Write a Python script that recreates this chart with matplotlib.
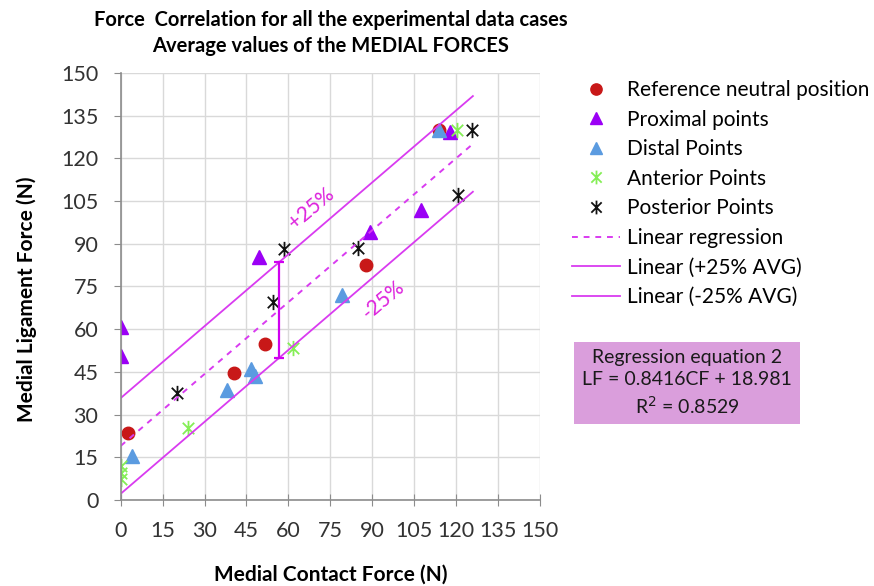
import numpy as np
import matplotlib
matplotlib.use("Agg")
import matplotlib.pyplot as plt
from matplotlib.path import Path

plt.rcParams['font.family'] = ['Lato', 'DejaVu Sans']

# Medial contact force (x) vs medial ligament force (y)
ref_x = [2.5, 40.6, 51.6, 87.6, 114.0]
ref_y = [23.4, 44.5, 54.8, 82.5, 130.0]
prox_x = [0, 0, 49.5, 89.2, 107.3, 117.8]
prox_y = [60.8, 50.5, 85.4, 94.2, 101.8, 129.3]
dist_x = [3.9, 37.9, 46.5, 48.0, 79.0, 114.0]
dist_y = [15.4, 38.6, 45.9, 43.5, 72.0, 129.8]
ant_x = [0, 0, 0, 24.0, 61.5, 120.2]
ant_y = [11.8, 9.4, 7.2, 25.2, 53.2, 130.0]
post_x = [20.3, 54.4, 58.5, 84.8, 120.6, 125.8]
post_y = [37.5, 69.4, 88.3, 88.6, 107.0, 130.0]

# regression and +/-25% band
slope = 0.8416
intercept = 18.981
band = 16.8
line_x = [0, 126]
bracket_x = 56.6

ticks = [0, 15, 30, 45, 60, 75, 90, 105, 120, 135, 150]

line_col = '#D93BF0'
txt_col = '#DD22DD'

# asterisk marker like Excel's star: X plus a vertical bar
star = Path([(0, -1), (0, 1), (-0.75, -0.75), (0.75, 0.75), (-0.75, 0.75), (0.75, -0.75)],
            [Path.MOVETO, Path.LINETO, Path.MOVETO, Path.LINETO, Path.MOVETO, Path.LINETO])

fig = plt.figure(figsize=(8.74, 5.86), dpi=100)
ax = fig.add_axes([0.1381, 0.1468, 0.4797, 0.729])

ax.plot(ref_x, ref_y, 'o', color='#C81818', ms=9, ls='none', label='Reference neutral position')
ax.plot(prox_x, prox_y, '^', color='#9B00F5', ms=10, ls='none', label='Proximal points')
ax.plot(dist_x, dist_y, '^', color='#5B9BE0', ms=10, ls='none', label='Distal Points')
ax.plot(ant_x, ant_y, marker=star, color='#84EE55', ms=11, mew=1.3, ls='none', label='Anterior Points')
ax.plot(post_x, post_y, marker=star, color='#111111', ms=11, mew=1.3, ls='none', label='Posterior Points')

lx = np.array(line_x, dtype=float)
ax.plot(lx, slope * lx + intercept, '--', color=line_col, lw=1.4, dashes=(3, 3), label='Linear regression')
ax.plot(lx, slope * lx + intercept + band, '-', color=line_col, lw=1.3, label='Linear (+25% AVG)')
ax.plot(lx, slope * lx + intercept - band, '-', color=line_col, lw=1.3, label='Linear (-25% AVG)')

# vertical bracket between the band lines
lo = slope * bracket_x + intercept - band
hi = slope * bracket_x + intercept + band
ax.plot([bracket_x, bracket_x], [lo, hi], color='#D000F0', lw=1.6)
ax.plot([bracket_x, bracket_x], [lo, hi], ls='none', marker='_', ms=7, mew=1.6, color='#D000F0')

ax.text(68.3, 102.5, '+25%', color=txt_col, fontsize=15, rotation=40,
        ha='center', va='center', rotation_mode='anchor')
ax.text(94.0, 70.2, '-25%', color=txt_col, fontsize=15, rotation=40,
        ha='center', va='center', rotation_mode='anchor')

ax.set_xlim(0, 150)
ax.set_ylim(0, 150)
ax.set_xticks(ticks)
ax.set_yticks(ticks)
ax.grid(True, color='#D9D9D9', lw=1)
ax.set_axisbelow(True)
for s in ['top', 'right']:
    ax.spines[s].set_visible(False)
for s in ['left', 'bottom']:
    ax.spines[s].set_color('#8C8C8C')
    ax.spines[s].set_linewidth(1.2)
ax.tick_params(color='#8C8C8C', labelsize=15.5, labelcolor='#333333')
ax.tick_params(axis='y', length=5, pad=11)
ax.tick_params(axis='x', direction='inout', length=8, pad=11)

fig.text(0.378, 0.966, 'Force  Correlation for all the experimental data cases',
         ha='center', va='center', fontsize=14.5, fontweight='bold')
fig.text(0.378, 0.922, 'Average values of the MEDIAL FORCES',
         ha='center', va='center', fontsize=14.5, fontweight='bold')
fig.text(0.378, 0.019, 'Medial Contact Force (N)', ha='center', va='center',
         fontsize=15, fontweight='bold')
fig.text(0.031, 0.49, 'Medial Ligament Force (N)', ha='center', va='center',
         rotation=90, fontsize=15, fontweight='bold')

ax.legend(loc='upper left', bbox_to_anchor=(572 / 874, 1 - 80 / 586),
          bbox_transform=fig.transFigure, frameon=False, fontsize=15,
          handlelength=2.3, handletextpad=0.35, labelspacing=0.46,
          borderpad=0, borderaxespad=0, markerscale=0.9)

fig.text(687 / 874, 1 - 383 / 586, 'Regression equation 2\nLF = 0.8416CF + 18.981\nR$^2$ = 0.8529',
         ha='center', va='center', fontsize=14, linespacing=1.35, color='#1a1a1a',
         bbox=dict(boxstyle='square,pad=0.4', facecolor='#DA9EDC', edgecolor='none'))

fig.savefig('out.png', dpi=100)
